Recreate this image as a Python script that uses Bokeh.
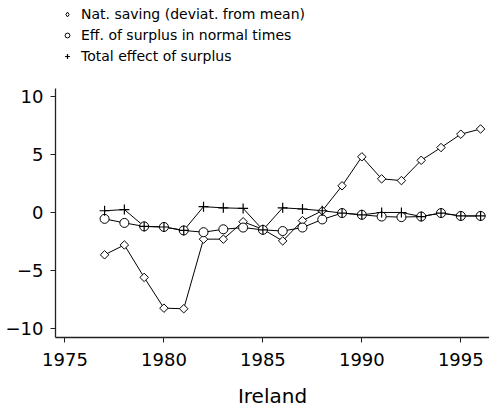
import numpy as np
from bokeh.plotting import figure
from bokeh.layouts import column
from bokeh.models import Legend, LegendItem, FixedTicker, ColumnDataSource
from bokeh.embed import file_html
from bokeh.resources import INLINE

years = list(range(1977, 1997))
nat_saving = [-3.65, -2.8, -5.6, -8.25, -8.3, -2.3, -2.3, -0.8, -1.45, -2.45,
              -0.7, 0.15, 2.3, 4.8, 2.9, 2.75, 4.5, 5.6, 6.75, 7.2]
eff_normal = [-0.55, -0.9, -1.2, -1.25, -1.55, -1.7, -1.45, -1.3, -1.5, -1.6,
              -1.3, -0.6, -0.05, -0.2, -0.35, -0.4, -0.35, -0.05, -0.3, -0.3]
total_eff = [0.15, 0.25, -1.2, -1.25, -1.55, 0.5, 0.4, 0.35, -1.5, 0.4,
             0.3, 0.15, -0.05, -0.2, 0.0, 0.0, -0.35, -0.05, -0.3, -0.3]
x_ticks = [1975, 1980, 1985, 1990, 1995]
y_ticks = [-10, -5, 0, 5, 10]
labels = ["Nat. saving (deviat. from mean)", "Eff. of surplus in normal times",
          "Total effect of surplus"]
x_title = "Ireland"

FONT = "DejaVu Sans"

# ---- main chart ----
p = figure(frame_width=434, frame_height=249, x_range=(1974.52, 1996.45), y_range=(-10.78, 10.69),
           output_backend="svg", toolbar_location=None,
           min_border_left=55, min_border_right=0, min_border_bottom=75, min_border_top=8)
p.outline_line_color = None
p.grid.visible = False

src = ColumnDataSource(dict(x=years, a=nat_saving, b=eff_normal, c=total_eff))

for col in ["a", "b", "c"]:
    p.line("x", col, source=src, line_color="black", line_width=1)

diamond_kw = dict(marker="square", angle=np.pi / 4, fill_color="white", line_color="black", line_width=1)
circle_kw = dict(marker="circle", fill_color="white", line_color="black", line_width=1)
cross_kw = dict(marker="cross", line_color="black", line_width=1.2)

p.scatter("x", "a", source=src, size=6, **diamond_kw)
p.scatter("x", "b", source=src, size=9, **circle_kw)
p.scatter("x", "c", source=src, size=10, **cross_kw)

for ax in [p.xaxis, p.yaxis]:
    ax.axis_line_color = "#222222"
    ax.axis_line_width = 1.3
    ax.major_tick_line_color = "#222222"
    ax.major_tick_in = 0
    ax.major_tick_out = 5
    ax.minor_tick_line_color = None
    ax.major_label_text_font = FONT
    ax.major_label_text_font_size = "18px"
    ax.major_label_text_color = "black"

p.xaxis.ticker = FixedTicker(ticks=x_ticks)
p.yaxis.ticker = FixedTicker(ticks=y_ticks)
p.yaxis.major_label_overrides = {t: (("\u2212" + str(abs(t))) if t < 0 else str(t)) for t in y_ticks}
p.xaxis.major_label_standoff = 10
p.yaxis.major_label_standoff = 7
p.xaxis.axis_label = x_title
p.xaxis.axis_label_text_font = FONT
p.xaxis.axis_label_text_font_size = "20px"
p.xaxis.axis_label_text_font_style = "normal"
p.xaxis.axis_label_text_color = "black"
p.xaxis.axis_label_standoff = 15

# ---- legend strip ----
lg = figure(width=489, height=80, x_range=(0, 1), y_range=(0, 1),
            output_backend="svg", toolbar_location=None,
            min_border_left=55, min_border_right=0, min_border_top=0, min_border_bottom=0)
lg.axis.visible = False
lg.grid.visible = False
lg.outline_line_color = None
e = dict(x=[-10], y=[-10])
la = lg.scatter("x", "y", source=ColumnDataSource(e), size=7, marker="diamond",
                fill_color="white", line_color="black", line_width=1)
lb = lg.scatter("x", "y", source=ColumnDataSource(e), size=6, **circle_kw)
lc = lg.scatter("x", "y", source=ColumnDataSource(e), size=7, **cross_kw)

legend = Legend(items=[LegendItem(label=labels[0], renderers=[la]),
                       LegendItem(label=labels[1], renderers=[lb]),
                       LegendItem(label=labels[2], renderers=[lc])],
                orientation="vertical", location=(6, 16))
legend.label_text_font = FONT
legend.label_text_font_size = "14px"
legend.label_text_color = "black"
legend.glyph_width = 12
legend.glyph_height = 14
legend.label_height = 14
legend.label_standoff = 8
legend.spacing = 5
legend.padding = 0
legend.margin = 0
legend.border_line_color = None
legend.background_fill_alpha = 0
lg.add_layout(legend)

layout = column(lg, p, spacing=0)
open("out.html", "w").write(file_html(layout, INLINE))
